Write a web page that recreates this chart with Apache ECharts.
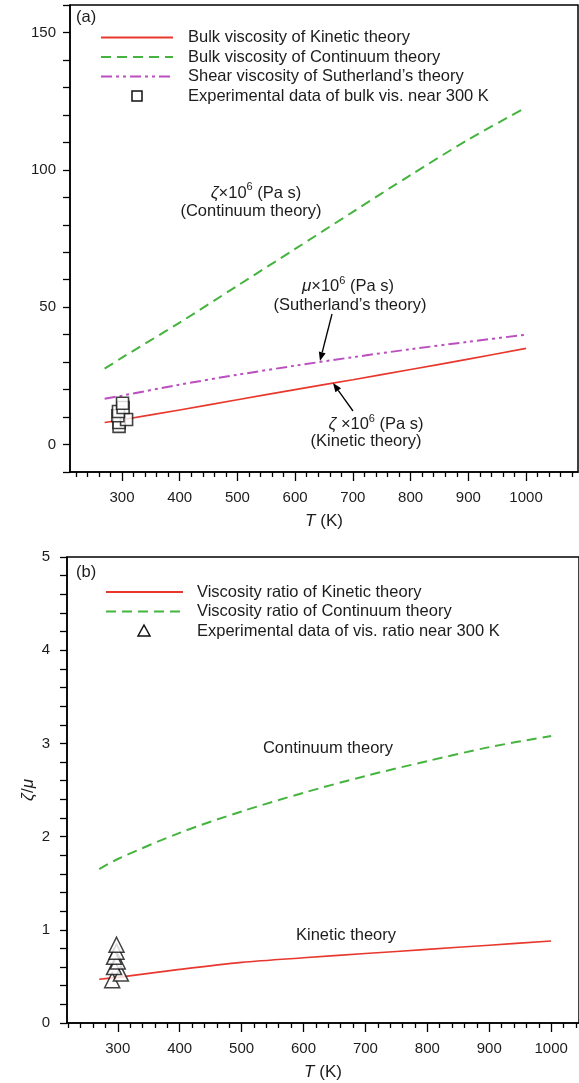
<!DOCTYPE html>
<html>
<head>
<meta charset="utf-8">
<script src="https://cdn.jsdelivr.net/npm/echarts@6/dist/echarts.min.js"></script>
<style>
  html, body { margin: 0; padding: 0; background: #fff; }
  #chart { width: 579px; height: 1083px; }
</style>
</head>
<body>
<div id="chart"></div>
<script>
// (a) viscosity x 10^6 (Pa s) against temperature (K)
var tempA = [270, 300, 400, 500, 600, 700, 800, 900, 1000];
var bulkKinetic = [8.0, 9.0, 12.6, 16.3, 20.0, 23.6, 27.3, 31.1, 35.0];
var bulkContinuum = [27.6, 31.6, 44.4, 57.8, 71.2, 84.7, 98.1, 111.0, 122.7];
var shearSutherland = [16.7, 17.8, 21.8, 25.4, 28.7, 31.8, 34.7, 37.4, 40.0];
var expBulkT = [295, 295, 308, 293, 294, 302, 301];
var expBulkVal = [6.6, 8.0, 9.1, 10.5, 12.0, 13.5, 15.0];

// (b) viscosity ratio zeta/mu
var tempB = [270, 300, 400, 500, 600, 700, 800, 900, 1000];
var ratioKinetic = [0.47, 0.49, 0.575, 0.65, 0.70, 0.745, 0.79, 0.835, 0.88];
var ratioContinuum = [1.65, 1.76, 2.04, 2.27, 2.47, 2.65, 2.81, 2.96, 3.08];
var expRatioT = [291, 305, 294, 300, 294, 298, 298];
var expRatioVal = [0.46, 0.53, 0.60, 0.66, 0.71, 0.765, 0.84];

// tick labels
var majorT = [300, 400, 500, 600, 700, 800, 900, 1000];
var minorTA = [220, 240, 260, 280, 320, 340, 360, 380, 420, 440, 460, 480, 520, 540, 560, 580,
  620, 640, 660, 680, 720, 740, 760, 780, 820, 840, 860, 880, 920, 940, 960, 980,
  1020, 1040, 1060, 1080];
var minorTB = [220, 240, 260, 280, 320, 340, 360, 380, 420, 440, 460, 480, 520, 540, 560, 580,
  620, 640, 660, 680, 720, 740, 760, 780, 820, 840, 860, 880, 920, 940, 960, 980,
  1020, 1040];

function pairs(xs, ys) {
  return xs.map(function (x, i) { return [x, ys[i]]; });
}

var FONT = 'Liberation Sans';
var INK = '#1c1c1c';
var RED = '#e8382d', GREEN = '#45b43f', MAGENTA = '#bb4fc0';
var DASH = [10, 6], DASHDOT = [11, 4, 3, 4, 3, 4];

function xMajor(grid, min, max) {
  return {
    gridIndex: grid, type: 'value', min: min, max: max,
    name: '{i|T} (K)', nameLocation: 'middle', nameGap: 41,
    nameTextStyle: { fontSize: 17, color: INK, rich: { i: { fontStyle: 'italic', fontSize: 17, color: INK } } },
    axisLine: { onZero: false, lineStyle: { color: '#000', width: 1.5 } },
    axisTick: { customValues: majorT, length: 9, lineStyle: { color: '#000', width: 1.3 } },
    axisLabel: { customValues: majorT, fontSize: 15, color: INK, margin: 18, formatter: function (v) { return String(v); } },
    splitLine: { show: false }
  };
}
function xMinor(grid, min, max, vals) {
  return {
    gridIndex: grid, type: 'value', min: min, max: max, position: 'bottom',
    axisLine: { show: false, onZero: false },
    axisTick: { customValues: vals, length: 5, lineStyle: { color: '#000', width: 1.3 } },
    axisLabel: { show: false },
    splitLine: { show: false }
  };
}

function arrow(x1, y1, x2, y2) {
  var a = Math.atan2(y2 - y1, x2 - x1), L = 9, W = 3.5;
  var bx = x2 - L * Math.cos(a), by = y2 - L * Math.sin(a);
  return [
    { type: 'line', z: 50, shape: { x1: x1, y1: y1, x2: bx, y2: by }, style: { stroke: '#000', lineWidth: 1.3 } },
    { type: 'polygon', z: 50, shape: { points: [[x2, y2], [bx + W * Math.sin(a), by - W * Math.cos(a)], [bx - W * Math.sin(a), by + W * Math.cos(a)]] }, style: { fill: '#000' } }
  ];
}

var rich = {
  i: { fontStyle: 'italic', fontSize: 17, fontFamily: FONT, color: INK, lineHeight: 20, verticalAlign: 'bottom' },
  n: { fontSize: 16.5, fontFamily: FONT, color: INK, lineHeight: 20, verticalAlign: 'bottom' },
  s: { fontSize: 11, fontFamily: FONT, color: INK, lineHeight: 20, verticalAlign: 'top' }
};
function note(x, y, text) {
  return {
    type: 'text', x: x, y: y, z: 50,
    style: { text: text, rich: rich, font: '16.5px ' + FONT, fill: INK, align: 'center', verticalAlign: 'middle' }
  };
}
function label(x, y, text) {
  return {
    type: 'text', x: x, y: y, z: 50,
    style: { text: text, font: '16.5px ' + FONT, fill: INK, align: 'left', verticalAlign: 'middle' }
  };
}
function keyLine(x1, x2, y, color, dash) {
  return { type: 'line', z: 50, shape: { x1: x1, y1: y, x2: x2, y2: y },
    style: { stroke: color, lineWidth: 2, lineDash: dash || null } };
}

var legendA = [
  keyLine(101, 173, 37.5, RED), label(188, 37.5, 'Bulk viscosity of Kinetic theory'),
  keyLine(101, 173, 57, GREEN, DASH), label(188, 57, 'Bulk viscosity of Continuum theory'),
  keyLine(101, 173, 76.5, MAGENTA, DASHDOT), label(188, 76.5, 'Shear viscosity of Sutherland\u2019s theory'),
  { type: 'rect', z: 50, shape: { x: 132, y: 91, width: 10, height: 10 }, style: { fill: '#fff', stroke: '#111', lineWidth: 1.5 } },
  label(188, 96, 'Experimental data of bulk vis. near 300 K')
];
var legendB = [
  keyLine(106, 183, 592, RED), label(197, 592, 'Viscosity ratio of Kinetic theory'),
  keyLine(106, 183, 611.5, GREEN, DASH), label(197, 611.5, 'Viscosity ratio of Continuum theory'),
  { type: 'polygon', z: 50, shape: { points: [[144, 625], [150, 636], [138, 636]] }, style: { fill: '#fff', stroke: '#111', lineWidth: 1.5 } },
  label(197, 631, 'Experimental data of vis. ratio near 300 K')
];

var chart = echarts.init(document.getElementById('chart'), null, { renderer: 'canvas' });
var option = {
  animation: false,
  backgroundColor: '#fff',
  textStyle: { fontFamily: FONT },
  grid: [
    { left: 70, top: 5, width: 508, height: 467, show: true, borderColor: '#000', borderWidth: 1.5 },
    { left: 67, top: 557, width: 513, height: 466, show: true, borderColor: '#000', borderWidth: 1.5 }
  ],
  xAxis: [
    xMajor(0, 210, 1090),
    xMinor(0, 210, 1090, minorTA),
    xMajor(1, 218, 1045),
    xMinor(1, 218, 1045, minorTB)
  ],
  yAxis: [
    {
      gridIndex: 0, type: 'value', min: -10, max: 160, interval: 10,
      axisLine: { onZero: false, lineStyle: { color: '#000', width: 1.5 } },
      axisTick: { length: 7, lineStyle: { color: '#000', width: 1.3 } },
      axisLabel: { fontSize: 15, color: INK, margin: 14, showMinLabel: true, showMaxLabel: true,
        formatter: function (v) { return v % 50 === 0 ? String(v) : ''; } },
      splitLine: { show: false }
    },
    {
      gridIndex: 1, type: 'value', min: 0, max: 5, interval: 0.2,
      name: '{i|ζ}/{i|μ}', nameLocation: 'middle', nameGap: 30, nameRotate: 90, nameMoveOverlap: false,
      nameTextStyle: { fontSize: 17, color: INK, rich: { i: { fontStyle: 'italic', fontSize: 17, color: INK } } },
      axisLine: { onZero: false, lineStyle: { color: '#000', width: 1.5 } },
      axisTick: { length: 7, lineStyle: { color: '#000', width: 1.3 } },
      axisLabel: { fontSize: 15, color: INK, margin: 17,
        formatter: function (v) { return Math.abs(v - Math.round(v)) < 1e-6 ? String(Math.round(v)) : ''; } },
      splitLine: { show: false }
    }
  ],
  series: [
    {
      name: 'Bulk viscosity of Kinetic theory', type: 'line', xAxisIndex: 0, yAxisIndex: 0,
      data: pairs(tempA, bulkKinetic), smooth: 0.3, symbol: 'none',
      lineStyle: { color: RED, width: 1.6 }
    },
    {
      name: 'Bulk viscosity of Continuum theory', type: 'line', xAxisIndex: 0, yAxisIndex: 0,
      data: pairs(tempA, bulkContinuum), smooth: 0.3, symbol: 'none',
      lineStyle: { color: GREEN, width: 2, type: DASH }
    },
    {
      name: 'Shear viscosity of Sutherland\u2019s theory', type: 'line', xAxisIndex: 0, yAxisIndex: 0,
      data: pairs(tempA, shearSutherland), smooth: 0.3, symbol: 'none',
      lineStyle: { color: MAGENTA, width: 2, type: DASHDOT }
    },
    {
      name: 'Experimental data of bulk vis. near 300 K', type: 'scatter', xAxisIndex: 0, yAxisIndex: 0,
      data: pairs(expBulkT, expBulkVal), symbol: 'rect', symbolSize: 12, z: 5,
      itemStyle: { color: '#fff', borderColor: '#111', borderWidth: 1.6 }
    },
    {
      name: 'Viscosity ratio of Kinetic theory', type: 'line', xAxisIndex: 2, yAxisIndex: 1,
      data: pairs(tempB, ratioKinetic), smooth: 0.3, symbol: 'none',
      lineStyle: { color: RED, width: 1.6 }
    },
    {
      name: 'Viscosity ratio of Continuum theory', type: 'line', xAxisIndex: 2, yAxisIndex: 1,
      data: pairs(tempB, ratioContinuum), smooth: 0.3, symbol: 'none',
      lineStyle: { color: GREEN, width: 2, type: DASH }
    },
    {
      name: 'Experimental data of vis. ratio near 300 K', type: 'scatter', xAxisIndex: 2, yAxisIndex: 1,
      data: pairs(expRatioT, expRatioVal), symbol: 'triangle', symbolSize: 15, z: 5,
      itemStyle: { color: '#fff', borderColor: '#111', borderWidth: 1.5 }
    }
  ],
  graphic: [
    { type: 'text', x: 76, y: 9, z: 50, style: { text: '(a)', font: '16.5px ' + FONT, fill: INK } },
    { type: 'text', x: 76, y: 564, z: 50, style: { text: '(b)', font: '16.5px ' + FONT, fill: INK } },
    note(256, 191.5, '{i|ζ}{n|×10}{s|6}{n| (Pa s)}'),
    note(251, 211.5, '(Continuum theory)'),
    note(348, 285, '{i|μ}{n|×10}{s|6}{n| (Pa s)}'),
    note(350, 305, '(Sutherland\u2019s theory)'),
    note(376, 423, '{i|ζ}{n| ×10}{s|6}{n| (Pa s)}'),
    note(366, 441, '(Kinetic theory)'),
    note(328, 748, 'Continuum theory'),
    note(346, 935, 'Kinetic theory')
  ].concat(arrow(332, 314, 320, 361)).concat(arrow(353, 411, 333, 383)).concat(legendA).concat(legendB)
};
chart.setOption(option);
</script>
</body>
</html>
